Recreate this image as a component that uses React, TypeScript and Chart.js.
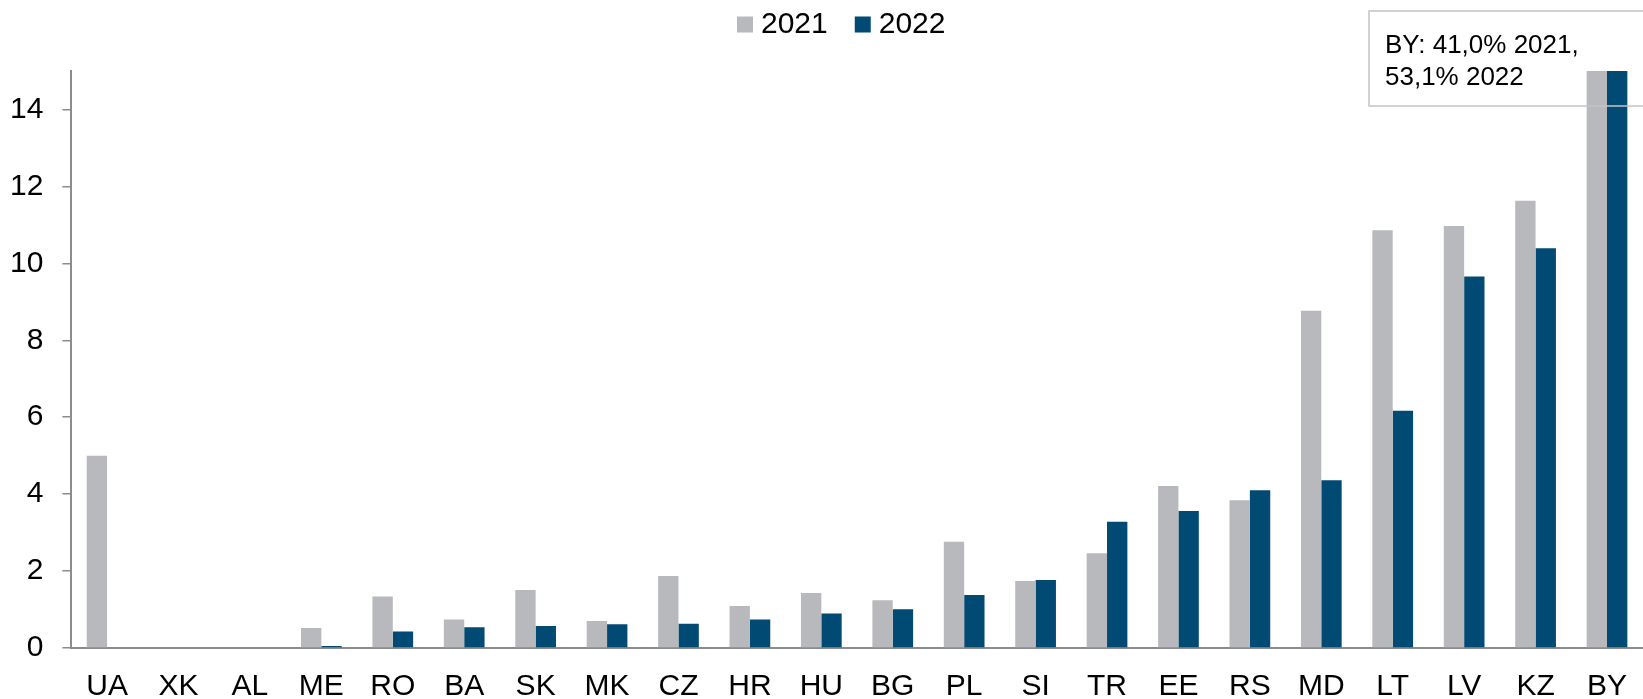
import React, { useEffect, useRef } from "react";
import { Chart, registerables } from "chart.js";

Chart.register(...registerables);

const categories = ["UA", "XK", "AL", "ME", "RO", "BA", "SK", "MK", "CZ", "HR", "HU", "BG", "PL", "SI", "TR", "EE", "RS", "MD", "LT", "LV", "KZ", "BY"];
const values2021: (number | null)[] = [5.0, null, null, 0.52, 1.34, 0.74, 1.51, 0.70, 1.87, 1.09, 1.43, 1.24, 2.76, 1.74, 2.46, 4.21, 3.84, 8.77, 10.86, 10.97, 11.63, 41.0];
const values2022: (number | null)[] = [null, null, null, 0.05, 0.43, 0.54, 0.57, 0.62, 0.63, 0.74, 0.90, 1.01, 1.38, 1.77, 3.28, 3.56, 4.10, 4.36, 6.17, 9.66, 10.39, 53.1];
const seriesLabels = ["2021", "2022"];
const seriesColors = ["#b8b9bd", "#004a73"];
const noteLines = ["BY: 41,0% 2021,", "53,1% 2022"];
const yMax = 15;
const yStep = 2;

const FONT = "'Liberation Sans', Arial, sans-serif";

const overlayPlugin = {
  id: "overlay",
  afterDraw(chart: any) {
    const ctx = chart.ctx as CanvasRenderingContext2D;
    ctx.save();
    // legend
    ctx.font = `30px ${FONT}`;
    ctx.textBaseline = "alphabetic";
    ctx.textAlign = "left";
    let x = 737;
    seriesLabels.forEach((lab, i) => {
      ctx.fillStyle = seriesColors[i];
      ctx.fillRect(x, 16.5, 16, 16);
      ctx.fillStyle = "#000";
      ctx.fillText(lab, x + 24, 33);
      x += 24 + ctx.measureText(lab).width + 27;
    });
    // annotation box
    ctx.strokeStyle = "#c4c4c4";
    ctx.lineWidth = 1.5;
    ctx.strokeRect(1369, 11, 300, 95);
    ctx.fillStyle = "#000";
    ctx.font = `26px ${FONT}`;
    ctx.fillText(noteLines[0], 1385, 53);
    ctx.fillText(noteLines[1], 1385, 85);
    ctx.restore();
  },
};

export default function App() {
  const ref = useRef<HTMLCanvasElement>(null);
  useEffect(() => {
    if (!ref.current) return;
    const chart = new Chart(ref.current, {
      type: "bar",
      data: {
        labels: categories,
        datasets: [
          { label: seriesLabels[0], data: values2021, backgroundColor: seriesColors[0], categoryPercentage: 0.57, barPercentage: 1.0 },
          { label: seriesLabels[1], data: values2022, backgroundColor: seriesColors[1], categoryPercentage: 0.57, barPercentage: 1.0 },
        ],
      },
      options: {
        animation: false,
        responsive: false,
        maintainAspectRatio: false,
        layout: { padding: { left: -9, right: -20, top: 71, bottom: -19 } },
        plugins: { legend: { display: false }, tooltip: { enabled: false } },
        scales: {
          x: {
            grid: { display: false },
            border: { display: true, color: "#8c8c90", width: 2 },
            ticks: { color: "#000", padding: 16, font: { family: FONT, size: 30, lineHeight: 1.0 }, maxRotation: 0, autoSkip: false },
          },
          y: {
            min: 0,
            max: yMax,
            afterBuildTicks: (scale: any) => {
              scale.ticks = scale.ticks.filter((t: any) => t.value % yStep === 0);
            },
            grid: { drawOnChartArea: false, drawTicks: true, tickLength: 9, color: "#8c8c90", lineWidth: 1.5 },
            border: { display: true, color: "#8c8c90", width: 2 },
            ticks: { stepSize: yStep, color: "#000", padding: 19, font: { family: FONT, size: 30 } },
          },
        },
      },
      plugins: [overlayPlugin],
    });
    return () => chart.destroy();
  }, []);
  return (
    <div style={{ position: "absolute", left: 0, top: 0, width: 1643, height: 699 }}>
      <canvas ref={ref} width={1643} height={699} style={{ display: "block", width: 1643, height: 699 }} />
    </div>
  );
}
